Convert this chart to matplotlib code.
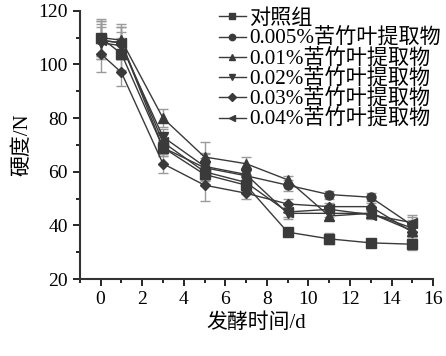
import matplotlib
matplotlib.use("Agg")
import matplotlib.pyplot as plt
from matplotlib.ticker import MultipleLocator

plt.rcParams['font.family'] = ['Liberation Serif', 'Noto Sans CJK SC']
plt.rcParams['font.size'] = 14

# jours de fermentation
days = [0, 1, 3, 5, 7, 9, 11, 13, 15]

labels = ["对照组", "0.005%苦竹叶提取物", "0.01%苦竹叶提取物",
          "0.02%苦竹叶提取物", "0.03%苦竹叶提取物", "0.04%苦竹叶提取物"]
markers = ["s", "o", "^", "v", "D", "<"]

control = [110, 104, 69, 59, 55, 37.5, 35, 33.5, 33]
c0005 = [109, 108, 69, 61.5, 58.5, 55, 51.5, 50.5, 40]
c001 = [110, 109, 80, 65.5, 63, 57, 43.5, 44.5, 38]
c002 = [108, 107, 73, 62, 59, 44.5, 44.5, 44.5, 39]
c003 = [104, 97, 63, 55, 52, 48, 47, 47, 37.5]
c004 = [109, 108, 71, 60, 56, 45, 46, 44, 41]

err_control = [6, 6, 3, 4, 2, 1, 2, 1, 2]
err_c0005 = [6, 6, 3, 5, 2, 2, 1.5, 1.5, 3]
err_c001 = [7, 6, 3.5, 5.5, 2.5, 1.5, 1.5, 1.5, 3]
err_c002 = [6, 5, 3, 5, 2, 2, 1.5, 1.5, 3]
err_c003 = [7, 5, 3.5, 6, 2, 2, 1.5, 1.5, 2]
err_c004 = [7, 6, 3, 5, 2, 2, 1.5, 1.5, 3]

series = [control, c0005, c001, c002, c003, c004]
errors = [err_control, err_c0005, err_c001, err_c002, err_c003, err_c004]

fig = plt.figure(figsize=(4.46, 3.56), dpi=100)
ax = fig.add_axes([0.179, 0.216, 0.792, 0.754])

for y, e, m, lab in zip(series, errors, markers, labels):
    ax.errorbar(days, y, yerr=e, fmt='none', ecolor='#9a9a9a', elinewidth=1.0,
                capsize=3.5, capthick=1.0, zorder=1)
    ax.plot(days, y, marker=m, color='#3a3a3a', lw=1.0, ms=6.5 if m != 'D' else 5.5,
            label=lab, zorder=2)

ax.set_xlim(-1, 16)
ax.set_ylim(20, 120)
ax.xaxis.set_major_locator(MultipleLocator(2))
ax.xaxis.set_minor_locator(MultipleLocator(1))
ax.yaxis.set_major_locator(MultipleLocator(20))
ax.yaxis.set_minor_locator(MultipleLocator(10))
ax.tick_params(which='major', direction='out', length=5, width=1.2, labelsize=14)
ax.tick_params(which='minor', direction='out', length=3, width=1.2)
for s in ['top', 'right']:
    ax.spines[s].set_visible(False)
for s in ['left', 'bottom']:
    ax.spines[s].set_linewidth(1.5)
    ax.spines[s].set_color('#333333')

ax.set_xlabel("发酵时间/d", fontsize=15)
ax.set_ylabel("硬度/N", fontsize=15)

ax.legend(loc='upper left', bbox_to_anchor=(0.462, 1.01), bbox_transform=fig.transFigure,
          frameon=False, fontsize=15.2, labelspacing=0.0, handlelength=1.3,
          handletextpad=0.15, borderpad=0.1, markerscale=0.7)

fig.savefig("out.png", dpi=100)
